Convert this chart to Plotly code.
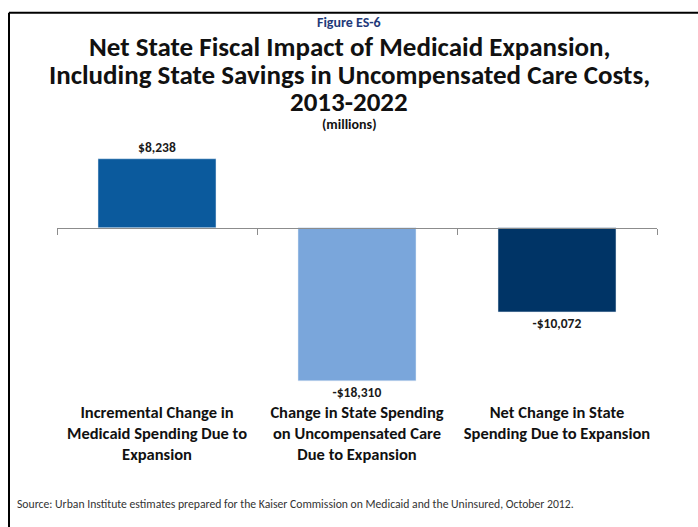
import plotly.graph_objects as go

categories = [
    "Incremental Change in<br>Medicaid Spending Due to<br>Expansion",
    "Change in State Spending<br>on Uncompensated Care<br>Due to Expansion",
    "Net Change in State<br>Spending Due to Expansion",
]
values = [8238, -18310, -10072]
colors = ["#0B5A9D", "#7AA6DB", "#003466"]

def fmt(v):
    return ("-" if v < 0 else "") + "${:,}".format(abs(v))

labels = ["<b>%s</b>" % fmt(v) for v in values]
tick_text = ["<b>%s</b>" % c for c in categories]

FONT = "Carlito, Liberation Sans Narrow, Liberation Sans, sans-serif"
W, H = 698, 527
L, R = 57, 41
T = 144
PH = 251.4
B = H - T - PH

def px(x):
    return (x - L) / (W - L - R)

def py(y):
    return (T + PH - y) / PH

fig = go.Figure()
fig.add_trace(go.Bar(
    x=categories, y=values, marker_color=colors, width=0.59,
    text=labels, textposition="outside", cliponaxis=False,
    textfont=dict(family=FONT, size=13.5, color="#1a1a1a"),
    hoverinfo="skip",
))

fig.update_layout(
    width=W, height=H,
    margin=dict(l=L, r=R, t=T, b=B),
    paper_bgcolor="white", plot_bgcolor="white",
    showlegend=False,
    font=dict(family=FONT, color="#111111"),
    xaxis=dict(
        type="category", range=[-0.5, 2.5], showline=False, showgrid=False,
        ticks="", tickfont=dict(family=FONT, size=16.5, color="#111111"),
        tickmode="array", tickvals=categories, ticktext=tick_text,
        ticklabelstandoff=5, fixedrange=True,
    ),
    xaxis2=dict(
        type="category", overlaying="x", anchor="free",
        position=py(228), range=[-0.5, 2.5], categoryarray=categories,
        showline=True, linecolor="#8c8c8c", linewidth=1,
        ticks="outside", tickson="boundaries", ticklen=6, tickcolor="#8c8c8c",
        showticklabels=False, showgrid=False, matches="x",
    ),
    yaxis=dict(range=[-20000, 10000], visible=False, fixedrange=True),
)
fig.add_trace(go.Scatter(x=categories, y=[None]*3, xaxis="x2", showlegend=False,
                         hoverinfo="skip", mode="markers"))

ann = [
    ("Figure ES-6", 22, 14, "#1F3A7A"),
    ("Net State Fiscal Impact of Medicaid Expansion,", 46, 27, "#111111"),
    ("Including State Savings in Uncompensated Care Costs,", 74, 27, "#111111"),
    ("2013-2022", 101.5, 27, "#111111"),
    ("(millions)", 124, 14, "#111111"),
]
for text, y, size, col in ann:
    fig.add_annotation(text="<b>%s</b>" % text, x=px(349), y=py(y), xref="paper", yref="paper",
                       showarrow=False, xanchor="center", yanchor="middle",
                       font=dict(family=FONT, size=size, color=col))

fig.add_annotation(
    text="Source: Urban Institute estimates prepared for the Kaiser Commission on Medicaid and the Uninsured, October 2012.",
    x=px(15), y=py(505), xref="paper", yref="paper", showarrow=False,
    xanchor="left", yanchor="middle", font=dict(family=FONT, size=11.7, color="#333333"))

fig.add_shape(type="line", x0=px(9), x1=px(720), y0=py(12.5), y1=py(12.5), xref="paper", yref="paper",
              line=dict(color="black", width=2))
fig.add_shape(type="line", x0=px(9), x1=px(9), y0=py(12.5), y1=py(540), xref="paper", yref="paper",
              line=dict(color="black", width=2))

fig.write_html("out.html")
